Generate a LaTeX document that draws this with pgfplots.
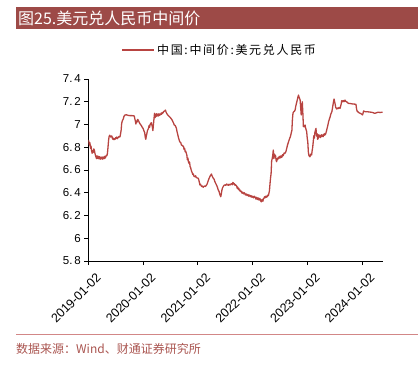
\documentclass[border=0pt]{standalone}
\usepackage{fontspec}
\setmainfont{Liberation Sans}
\newfontfamily\cjk{Noto Sans CJK SC}
\newfontfamily\cjkls[LetterSpace=14]{Noto Sans CJK SC}
\usepackage{pgfplots}
\pgfplotsset{compat=1.18}
\definecolor{linered}{RGB}{184,68,65}
\definecolor{barred}{RGB}{157,74,71}
\definecolor{srcred}{RGB}{170,85,80}
\definecolor{sepred}{RGB}{210,135,135}
\pgfplotstableread{
t v
2019.00 6.864
2019.01 6.85
2019.02 6.82
2019.03 6.84
2019.04 6.79
2019.05 6.81
2019.06 6.77
2019.07 6.747
2019.08 6.77
2019.09 6.755
2019.10 6.785
2019.11 6.776
2019.12 6.75
2019.13 6.73
2019.14 6.715
2019.15 6.70
2019.16 6.725
2019.17 6.71
2019.18 6.70
2019.19 6.72
2019.20 6.70
2019.21 6.717
2019.22 6.695
2019.23 6.71
2019.24 6.70
2019.25 6.715
2019.26 6.695
2019.27 6.70
2019.28 6.715
2019.29 6.70
2019.30 6.72
2019.31 6.705
2019.32 6.717
2019.33 6.73
2019.34 6.725
2019.35 6.747
2019.36 6.80
2019.37 6.86
2019.38 6.893
2019.39 6.905
2019.40 6.90
2019.41 6.89
2019.42 6.898
2019.43 6.899
2019.44 6.88
2019.45 6.87
2019.46 6.88
2019.47 6.866
2019.48 6.875
2019.49 6.87
2019.50 6.885
2019.51 6.878
2019.52 6.89
2019.53 6.875
2019.54 6.885
2019.55 6.887
2019.56 6.895
2019.57 6.89
2019.58 6.893
2019.59 6.92
2019.60 6.95
2019.61 7.01
2019.62 7.03
2019.64 7.05
2019.65 7.07
2019.67 7.084
2019.70 7.085
2019.73 7.08
2019.76 7.078
2019.80 7.078
2019.84 7.075
2019.85 7.05
2019.86 7.03
2019.87 7.004
2019.88 7.03
2019.89 7.02
2019.90 7.045
2019.91 7.04
2019.92 7.03
2019.93 7.02
2019.94 7.01
2019.96 6.996
2019.97 6.99
2019.98 6.98
2020.00 6.966
2020.02 6.94
2020.03 6.93
2020.04 6.89
2020.05 6.87
2020.06 6.90
2020.07 6.92
2020.08 6.945
2020.10 6.966
2020.11 6.99
2020.12 6.975
2020.13 7.00
2020.15 7.016
2020.16 7.00
2020.17 6.98
2020.18 6.946
2020.19 7.00
2020.20 7.05
2020.21 7.098
2020.22 7.06
2020.23 7.09
2020.24 7.07
2020.25 7.095
2020.26 7.075
2020.27 7.09
2020.28 7.075
2020.29 7.095
2020.30 7.08
2020.31 7.09
2020.32 7.085
2020.33 7.10
2020.34 7.09
2020.35 7.105
2020.36 7.10
2020.38 7.115
2020.40 7.12
2020.41 7.127
2020.42 7.11
2020.43 7.10
2020.45 7.084
2020.47 7.075
2020.48 7.07
2020.50 7.06
2020.51 7.054
2020.53 7.04
2020.54 7.03
2020.56 7.01
2020.57 6.996
2020.59 6.99
2020.61 6.966
2020.62 6.94
2020.64 6.90
2020.65 6.88
2020.66 6.865
2020.67 6.849
2020.69 6.84
2020.70 6.82
2020.72 6.815
2020.74 6.805
2020.75 6.78
2020.76 6.79
2020.77 6.76
2020.78 6.765
2020.80 6.732
2020.81 6.69
2020.82 6.705
2020.83 6.67
2020.84 6.659
2020.85 6.67
2020.86 6.63
2020.87 6.62
2020.88 6.60
2020.89 6.585
2020.90 6.575
2020.91 6.56
2020.92 6.565
2020.93 6.545
2020.95 6.541
2020.96 6.55
2020.97 6.535
2020.99 6.53
2021.01 6.527
2021.02 6.51
2021.03 6.49
2021.04 6.468
2021.05 6.475
2021.07 6.455
2021.08 6.46
2021.10 6.448
2021.11 6.455
2021.13 6.46
2021.14 6.455
2021.16 6.468
2021.17 6.475
2021.18 6.49
2021.19 6.505
2021.20 6.518
2021.21 6.53
2021.22 6.54
2021.23 6.55
2021.25 6.565
2021.26 6.55
2021.27 6.54
2021.28 6.53
2021.30 6.518
2021.31 6.50
2021.33 6.48
2021.34 6.47
2021.36 6.448
2021.37 6.43
2021.39 6.41
2021.40 6.39
2021.42 6.365
2021.43 6.39
2021.44 6.42
2021.45 6.44
2021.47 6.459
2021.48 6.465
2021.50 6.47
2021.51 6.465
2021.53 6.477
2021.54 6.47
2021.56 6.465
2021.57 6.475
2021.59 6.468
2021.60 6.475
2021.62 6.48
2021.63 6.47
2021.64 6.49
2021.65 6.488
2021.66 6.475
2021.67 6.48
2021.68 6.465
2021.69 6.47
2021.71 6.459
2021.72 6.44
2021.73 6.45
2021.74 6.43
2021.75 6.439
2021.76 6.42
2021.77 6.425
2021.78 6.41
2021.79 6.415
2021.80 6.409
2021.81 6.395
2021.82 6.405
2021.83 6.40
2021.84 6.39
2021.85 6.40
2021.86 6.395
2021.87 6.38
2021.88 6.39
2021.89 6.388
2021.90 6.375
2021.91 6.385
2021.92 6.38
2021.93 6.37
2021.94 6.38
2021.95 6.375
2021.96 6.365
2021.97 6.375
2021.98 6.371
2021.99 6.36
2022.00 6.37
2022.01 6.365
2022.02 6.355
2022.03 6.37
2022.05 6.36
2022.06 6.345
2022.07 6.36
2022.08 6.355
2022.09 6.34
2022.10 6.355
2022.11 6.351
2022.12 6.335
2022.13 6.35
2022.14 6.345
2022.15 6.33
2022.16 6.32
2022.17 6.336
2022.18 6.34
2022.19 6.325
2022.20 6.35
2022.21 6.351
2022.22 6.365
2022.23 6.355
2022.24 6.37
2022.25 6.36
2022.26 6.371
2022.27 6.365
2022.28 6.38
2022.29 6.375
2022.30 6.395
2022.31 6.42
2022.32 6.48
2022.33 6.53
2022.34 6.571
2022.35 6.68
2022.36 6.70
2022.37 6.73
2022.38 6.776
2022.39 6.70
2022.40 6.74
2022.41 6.717
2022.42 6.73
2022.43 6.69
2022.44 6.673
2022.45 6.70
2022.46 6.69
2022.47 6.71
2022.48 6.703
2022.49 6.72
2022.50 6.705
2022.51 6.71
2022.52 6.725
2022.53 6.71
2022.54 6.717
2022.55 6.735
2022.56 6.725
2022.57 6.74
2022.58 6.75
2022.59 6.745
2022.61 6.761
2022.62 6.78
2022.63 6.80
2022.64 6.82
2022.65 6.835
2022.66 6.85
2022.68 6.88
2022.69 6.89
2022.70 6.908
2022.71 6.93
2022.72 6.95
2022.73 7.05
2022.74 7.10
2022.75 7.11
2022.77 7.119
2022.78 7.13
2022.79 7.16
2022.80 7.18
2022.81 7.2
2022.82 7.22
2022.83 7.24
2022.84 7.259
2022.85 7.24
2022.86 7.23
2022.87 7.215
2022.88 7.15
2022.89 7.084
2022.90 7.15
2022.91 7.2
2022.92 7.10
2022.93 6.981
2022.94 6.99
2022.95 6.98
2022.96 6.996
2022.97 6.97
2022.99 6.937
2023.00 6.88
2023.01 6.85
2023.02 6.761
2023.03 6.73
2023.04 6.72
2023.05 6.717
2023.06 6.735
2023.07 6.74
2023.08 6.732
2023.09 6.77
2023.10 6.80
2023.11 6.849
2023.12 6.90
2023.13 6.88
2023.14 6.93
2023.15 6.95
2023.16 6.966
2023.17 6.90
2023.18 6.92
2023.19 6.87
2023.20 6.878
2023.21 6.91
2023.22 6.89
2023.23 6.905
2023.24 6.885
2023.25 6.893
2023.26 6.91
2023.27 6.895
2023.28 6.905
2023.29 6.893
2023.30 6.915
2023.31 6.905
2023.32 6.92
2023.33 6.91
2023.34 6.922
2023.35 6.94
2023.37 6.98
2023.38 7.00
2023.39 7.025
2023.40 7.04
2023.42 7.07
2023.43 7.09
2023.45 7.113
2023.46 7.14
2023.47 7.17
2023.48 7.20
2023.49 7.224
2023.50 7.20
2023.51 7.18
2023.52 7.15
2023.54 7.136
2023.55 7.145
2023.57 7.14
2023.58 7.15
2023.60 7.142
2023.61 7.16
2023.62 7.18
2023.63 7.21
2023.64 7.20
2023.65 7.207
2023.66 7.21
2023.67 7.20
2023.68 7.205
2023.69 7.215
2023.70 7.205
2023.72 7.20
2023.75 7.186
2023.78 7.185
2023.81 7.182
2023.84 7.18
2023.87 7.179
2023.89 7.178
2023.90 7.14
2023.91 7.119
2023.93 7.11
2023.94 7.105
2023.96 7.10
2023.97 7.098
2024.00 7.09
2024.01 7.084
2024.02 7.10
2024.03 7.119
2024.06 7.112
2024.09 7.113
2024.13 7.11
2024.17 7.108
2024.20 7.105
2024.23 7.098
2024.26 7.102
2024.29 7.108
2024.33 7.106
2024.38 7.108
}\usdcny
\begin{document}
\begin{tikzpicture}
\useasboundingbox (0pt,0pt) rectangle (420pt,-367pt);
% title bar
\fill[barred] (16pt,-7pt) rectangle (418pt,-29pt);
\node[anchor=west,text=white,inner sep=0pt] at (18pt,-18pt) {\fontsize{16}{16}\selectfont\cjk 图25.美元兑人民币中间价};
\begin{axis}[
  scale only axis,
  width=294.4pt, height=182pt,
  at={(88.3pt,-261pt)}, anchor=south west,
  xmin=2019, xmax=2024.379,
  ymin=5.8, ymax=7.4,
  axis x line*=bottom, axis y line*=left,
  axis line style={black, line width=0.7pt, -},
  tick align=outside,
  major tick length=4pt,
  tick style={black, line width=0.7pt},
  xtick={2019,2020,2021,2022,2023,2024},
  xticklabels={2019-01-02,2020-01-02,2021-01-02,2022-01-02,2023-01-02,2024-01-02},
  ytick={5.8,6,6.2,6.4,6.6,6.8,7,7.2,7.4},
  yticklabels={5.\,8,6,6.\,2,6.\,4,6.\,6,6.\,8,7,7.\,2,7.\,4},
  x tick label style={rotate=45, anchor=north east, font=\fontsize{12.5}{13}\selectfont, inner sep=0pt, xshift=0pt, yshift=-10pt},
  y tick label style={font=\fontsize{11.5}{12}\selectfont},
  legend style={draw=none, fill=none, at={(0.447,1.159)}, anchor=center, font=\fontsize{12}{12}\selectfont\cjkls, inner sep=0pt},
  legend image code/.code={\draw[#1] (0pt,0pt) -- (32pt,0pt);},
  legend cell align=left,
]
\addplot[linered, line width=1.3pt, line join=round] table[x=t,y=v] {\usdcny};
\addlegendentry{中国:中间价:美元兑人民币}
\end{axis}
% source
\draw[sepred, line width=0.8pt] (16pt,-334pt) -- (418pt,-334pt);
\node[anchor=west,text=srcred,inner sep=0pt] at (16pt,-349pt) {\fontsize{12}{12}\selectfont\cjk 数据来源：Wind、财通证券研究所};
\end{tikzpicture}
\end{document}
